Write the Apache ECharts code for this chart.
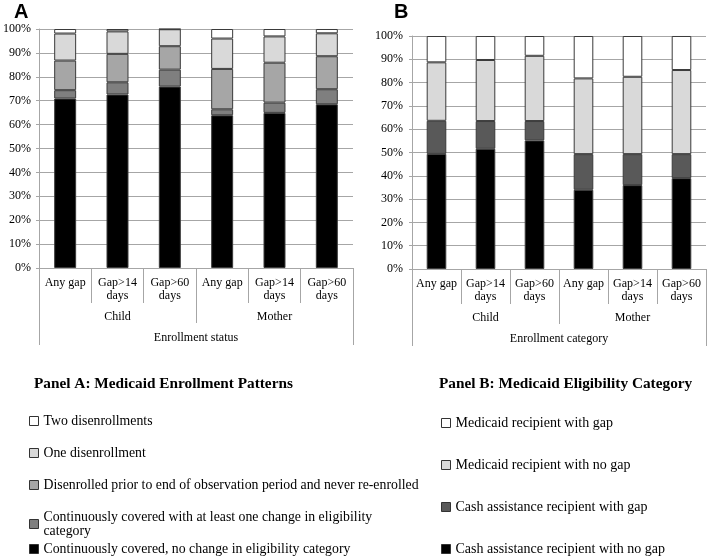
<!DOCTYPE html>
<html>
<head>
<meta charset="utf-8">
<script src="https://cdn.jsdelivr.net/npm/echarts@6/dist/echarts.min.js"></script>
<style>
html,body{margin:0;padding:0;background:#fff;}
#chart{width:708px;height:558px;}
</style>
</head>
<body>
<div id="chart"></div>
<script>
// ---- Data ----
const categories = ['Any gap', 'Gap>14 days', 'Gap>60 days', 'Any gap', 'Gap>14 days', 'Gap>60 days'];
const groups = ['Child', 'Mother'];
const axisTitleA = 'Enrollment status';
const axisTitleB = 'Enrollment category';
const yTicks = [0, 10, 20, 30, 40, 50, 60, 70, 80, 90, 100];

// Panel A (bottom to top)
const aNames = [
  'Continuously covered, no change in eligibility category',
  'Continuously covered with at least one change in eligibility category',
  'Disenrolled prior to end of observation period and never re-enrolled',
  'One disenrollment',
  'Two disenrollments'
];
const aNoChange = [70.9, 72.6, 75.9, 63.9, 64.9, 68.5];
const aChange   = [3.5, 5.1, 7.1, 2.5, 4.3, 6.3];
const aNever    = [12.4, 11.9, 9.8, 16.9, 16.7, 13.8];
const aOne      = [11.3, 9.4, 7.1, 12.7, 11.0, 9.6];
const aTwo      = [1.9, 1.0, 0.1, 4.0, 3.1, 1.8];

// Panel B (bottom to top)
const bNames = [
  'Cash assistance recipient with no gap',
  'Cash assistance recipient with gap',
  'Medicaid recipient with no gap',
  'Medicaid recipient with gap'
];
const bCashNoGap = [49.4, 51.6, 55.2, 34.0, 36.0, 39.0];
const bCashGap   = [14.2, 11.9, 8.3, 15.3, 13.3, 10.3];
const bMedNoGap  = [25.1, 26.2, 28.0, 32.5, 33.2, 36.1];
const bMedGap    = [11.3, 10.3, 8.5, 18.2, 17.5, 14.6];

// ---- Styles ----
const aColors = ['#000000', '#7f7f7f', '#a6a6a6', '#d9d9d9', '#ffffff'];
const bColors = ['#000000', '#595959', '#d9d9d9', '#ffffff'];
const serif = '"Liberation Serif", "Times New Roman", serif';
const gridGray = '#a6a6a6';

const aData = [aNoChange, aChange, aNever, aOne, aTwo];
const bData = [bCashNoGap, bCashGap, bMedNoGap, bMedGap];

function catAxes(gridIndex, title) {
  return [
    {
      type: 'category', gridIndex: gridIndex, data: categories, position: 'bottom',
      axisLine: { show: true, lineStyle: { color: gridGray } },
      axisTick: { show: true, length: 35, interval: 0, lineStyle: { color: gridGray } },
      axisLabel: {
        interval: 0, margin: 8, color: '#000', fontFamily: serif, fontSize: 12, lineHeight: 13,
        formatter: v => v.replace(' days', '\ndays')
      }
    },
    {
      type: 'category', gridIndex: gridIndex, data: groups, position: 'bottom', offset: 35,
      axisLine: { show: false },
      axisTick: { show: true, length: 20, interval: 0, lineStyle: { color: gridGray } },
      axisLabel: { interval: 0, margin: 8, color: '#000', fontFamily: serif, fontSize: 12 }
    },
    {
      type: 'category', gridIndex: gridIndex, data: [title], position: 'bottom', offset: 55,
      axisLine: { show: false },
      axisTick: { show: true, length: 22, interval: 0, lineStyle: { color: gridGray } },
      axisLabel: { interval: 0, margin: 9, color: '#000', fontFamily: serif, fontSize: 12 }
    }
  ];
}

function valAxis(gridIndex, margin) {
  return {
    type: 'value', gridIndex: gridIndex, min: yTicks[0], max: yTicks[yTicks.length - 1], interval: 10,
    axisLine: { show: true, lineStyle: { color: gridGray } },
    axisTick: { show: true, length: 3, lineStyle: { color: gridGray } },
    splitLine: { show: true, lineStyle: { color: gridGray, width: 1 } },
    axisLabel: { margin: margin, color: '#000', fontFamily: serif, fontSize: 12, formatter: '{value}%' }
  };
}

const series = [];
aNames.forEach((n, i) => {
  series.push({
    name: n, type: 'bar', stack: 'A', xAxisIndex: 0, yAxisIndex: 0, data: aData[i],
    barWidth: '42%',
    itemStyle: { color: aColors[i], borderColor: '#3a3a3a', borderWidth: 1 },
    emphasis: { disabled: true }
  });
});
bNames.forEach((n, i) => {
  series.push({
    name: n, type: 'bar', stack: 'B', xAxisIndex: 3, yAxisIndex: 1, data: bData[i],
    barWidth: '40%',
    itemStyle: { color: bColors[i], borderColor: '#3a3a3a', borderWidth: 1 },
    emphasis: { disabled: true }
  });
});

// legends: one per item, listed top to bottom
const legendTextStyle = { fontFamily: serif, fontSize: 14, color: '#000', lineHeight: 14 };
const aLegendTops = [414, 446, 478, 510, 542];
const bLegendTops = [416, 458, 500, 542];
const legends = [];
aNames.slice().reverse().forEach((n, i) => {
  legends.push({
    data: [n], left: 29, top: aLegendTops[i], padding: 0, orient: 'vertical', selectedMode: false,
    icon: 'rect', itemWidth: 9, itemHeight: 9,
    itemStyle: { borderColor: '#333', borderWidth: 1 },
    formatter: name => name === aNames[1] ? name.replace('eligibility category', 'eligibility\ncategory') : name,
    textStyle: Object.assign({}, legendTextStyle, { fontSize: 13.8 })
  });
});
bNames.slice().reverse().forEach((n, i) => {
  legends.push({
    data: [n], left: 441, top: bLegendTops[i], padding: 0, orient: 'vertical', selectedMode: false,
    icon: 'rect', itemWidth: 9, itemHeight: 9,
    itemStyle: { borderColor: '#333', borderWidth: 1 },
    textStyle: legendTextStyle
  });
});

const chart = echarts.init(document.getElementById('chart'), null, { renderer: 'canvas' });
chart.setOption({
  animation: false,
  backgroundColor: '#fff',
  title: [
    { text: 'A', left: 14, top: 2, padding: 0, textStyle: { fontFamily: '"Liberation Sans", Arial, sans-serif', fontWeight: 'bold', fontSize: 20, color: '#000' } },
    { text: 'B', left: 394, top: 2, padding: 0, textStyle: { fontFamily: '"Liberation Sans", Arial, sans-serif', fontWeight: 'bold', fontSize: 20, color: '#000' } },
    { text: 'Panel A: Medicaid Enrollment Patterns', left: 34, top: 377, padding: 0, textStyle: { fontFamily: serif, fontWeight: 'bold', fontSize: 15.3, color: '#000' } },
    { text: 'Panel B: Medicaid Eligibility Category', left: 439, top: 377, padding: 0, textStyle: { fontFamily: serif, fontWeight: 'bold', fontSize: 15.3, color: '#000' } }
  ],
  legend: legends,
  grid: [
    { left: 35, right: 355, top: 29, bottom: 290, containLabel: false },
    { left: 412, right: 2, top: 36, bottom: 289, containLabel: false }
  ],
  xAxis: catAxes(0, axisTitleA).concat(catAxes(1, axisTitleB)),
  yAxis: [valAxis(0, 8), valAxis(1, 9)],
  series: series
});
</script>
</body>
</html>
